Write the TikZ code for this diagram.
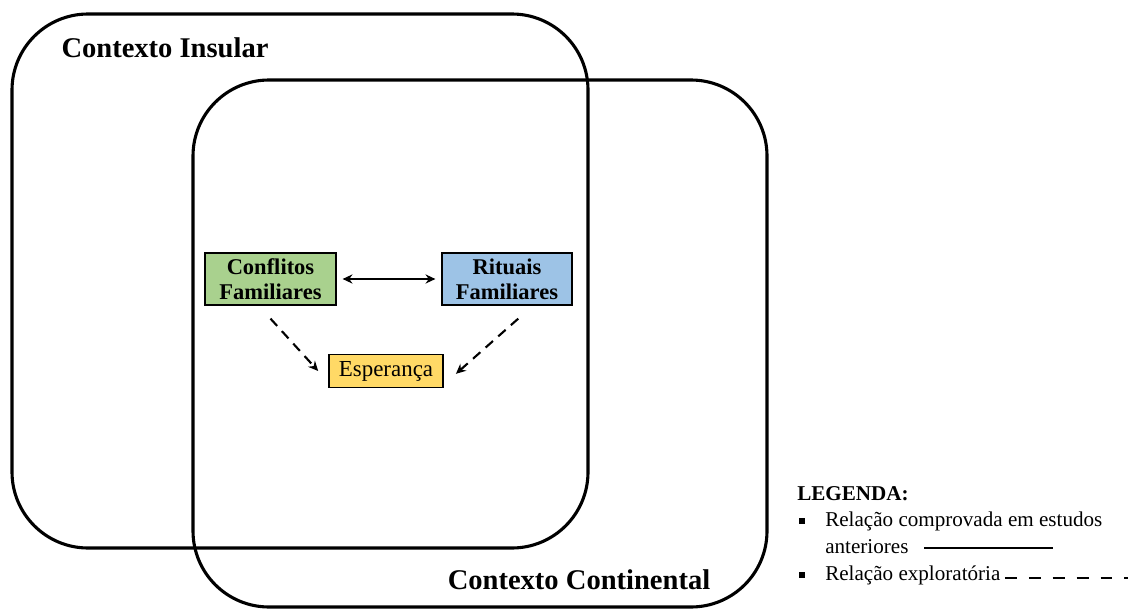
\documentclass[tikz,border=0pt]{standalone}
\usepackage{fontspec}
\setmainfont{Liberation Serif}
\usepackage{xcolor}
\usetikzlibrary{arrows.meta, positioning}
\definecolor{conflitocor}{HTML}{A9D18E}
\definecolor{ritualcor}{HTML}{9DC3E6}
\definecolor{esperancacor}{HTML}{FFD966}
\tikzstyle{contexto} = [line width=2.2pt, rounded corners=1.9cm]
\tikzstyle{contextotitle} = [font=\fontsize{20.3}{24}\selectfont\bfseries, inner sep=0pt]
\tikzstyle{variavel} = [rectangle, draw=black, line width=1.4pt, text centered, align=center, inner sep=2pt, font=\fontsize{16}{17.5}\selectfont\bfseries]
\tikzstyle{legendtext} = [anchor=west, inner sep=0pt, font=\fontsize{15}{18}\selectfont]
\tikzstyle{bullet} = [rectangle, fill=black, minimum size=3.8pt, inner sep=0pt]
\tikzstyle{arrow} = [line width=1.5pt,->,>={Stealth[length=7pt,width=6.5pt]}]
\tikzstyle{dasharrow} = [line width=1.5pt,->,>={Stealth[length=7pt,width=6.5pt]}, dash pattern=on 7pt off 5pt]

\begin{document}
\begin{tikzpicture}[x=0.025cm, y=-0.025cm]
\useasboundingbox (0,0) rectangle (1128,610);

% Contexts
\draw [contexto] (12,14) rectangle (588,548);
\draw [contexto] (193,80) rectangle (767,607);
\node (insular) [contextotitle] at (165,48) {Contexto Insular};
\node (continental) [contextotitle] at (579,580) {Contexto Continental};

% Nodes
\node (conflitos) [variavel, fill=conflitocor, minimum width=131*0.025cm, minimum height=52*0.025cm] at (270.5,279) {Conflitos\\Familiares};
\node (rituais) [variavel, fill=ritualcor, minimum width=130*0.025cm, minimum height=52*0.025cm] at (507,279) {Rituais\\Familiares};
\node (esperanca) [variavel, fill=esperancacor, font=\fontsize{16.3}{18}\selectfont, minimum width=114*0.025cm, minimum height=33*0.025cm] at (386,371) {Esperança};

% Arrows
\draw [arrow, <->, shorten <=4pt, shorten >=4pt] (conflitos) -- (rituais);
\draw [dasharrow] ([yshift=-9pt]conflitos.south) -- ([xshift=-7pt]esperanca.west);
\draw [dasharrow] ([xshift=8pt,yshift=-9pt]rituais.south) -- ([xshift=8.5pt,yshift=-2pt]esperanca.east);

% Legend
\node (legenda) [legendtext, font=\fontsize{15}{18}\selectfont\bfseries] at (797,494) {LEGENDA:};
\node (b1) [bullet] at (802,521) {};
\node (l1) [legendtext] at (825,521) {Relação comprovada em estudos};
\node (l2) [legendtext] at (825,547) {anteriores};
\node (b2) [bullet] at (802,575) {};
\node (l3) [legendtext] at (825,575) {Relação exploratória};
\coordinate (solidend) at (1053,548);
\coordinate (dashend) at (1128,578);
\draw [line width=2pt] ([xshift=11pt]l2.east |- solidend) -- (solidend);
\draw [line width=2.1pt, dash pattern=on 8.5pt off 8.5pt] ([xshift=3pt]l3.east |- dashend) -- (dashend);

\end{tikzpicture}
\end{document}
